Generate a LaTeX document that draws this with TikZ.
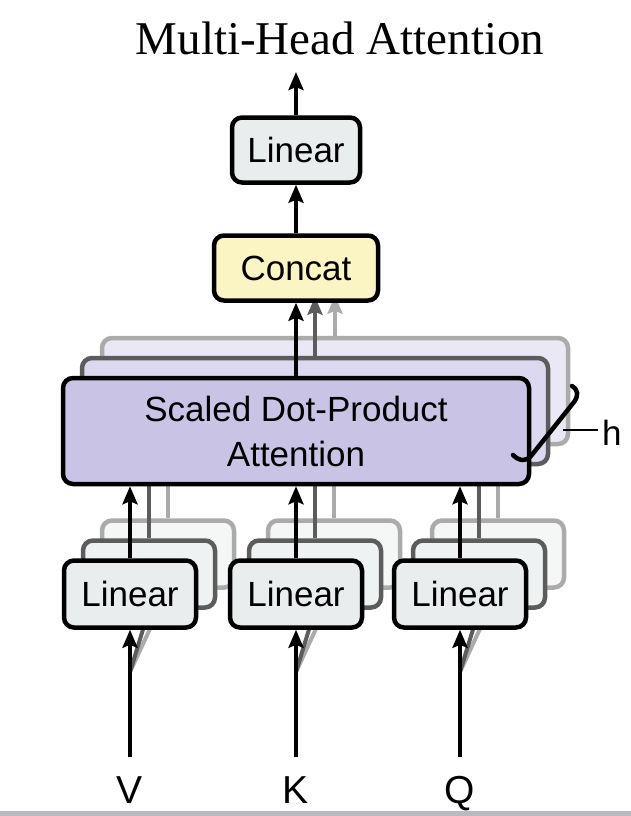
\documentclass[tikz,border=0pt]{standalone}
\usepackage{fontspec}
\setmainfont{Liberation Sans}
\newfontfamily\titlefont{Liberation Serif}
\usetikzlibrary{arrows.meta,backgrounds}

\definecolor{linfill}{HTML}{E9EDED}
\definecolor{linfillB}{HTML}{EFF2F2}
\definecolor{linfillC}{HTML}{F5F7F7}
\definecolor{attfill}{HTML}{C9C4E6}
\definecolor{attfillB}{HTML}{DCD8EF}
\definecolor{attfillC}{HTML}{EAE8F4}
\definecolor{catfill}{HTML}{FBF5C3}
\definecolor{edgeB}{HTML}{5C5C5C}
\definecolor{edgeC}{HTML}{ABABAB}
\definecolor{stripgray}{HTML}{B8BCC0}

\begin{document}
\begin{tikzpicture}[x=1pt,y=-1pt,
  boxtext/.style={font=\fontsize{35}{45}\selectfont},
  box/.style={draw, line width=4.5pt, rounded corners=10pt, inner sep=0pt, boxtext},
  linbox/.style={box, fill=linfill, minimum width=132pt, minimum height=67pt},
  linboxB/.style={linbox, draw=edgeB, fill=linfillB},
  linboxC/.style={linbox, draw=edgeC, fill=linfillC},
  attbox/.style={box, fill=attfill, minimum width=466pt, minimum height=106pt, align=center},
  attboxB/.style={attbox, draw=edgeB, fill=attfillB},
  attboxC/.style={attbox, draw=edgeC, fill=attfillC},
  arr/.style={line width=4.5pt, -{Stealth[length=18pt,width=15pt,inset=3pt]}},
  arrB/.style={arr, draw=edgeB},
  arrC/.style={arr, draw=edgeC},
  lineB/.style={line width=4.5pt, draw=edgeB},
  lineC/.style={line width=4.5pt, draw=edgeC},
]
\useasboundingbox (0,0) rectangle (631,816);
\fill[stripgray] (0,811) rectangle (631,816);

% title
\node[font=\titlefont\fontsize{47}{56}\selectfont, anchor=base, inner sep=0pt] (title) at (340,55) {Multi-Head Attention};

% three stacks of linear projections, each head feeding upwards
\foreach \n/\x in {v/130,k/296,q/460}{
  \node[linboxC] (\n lin3) at (\x+38,554) {};
  \draw[lineC] (\n lin3.north) -- ++(0,-80);
  \node[linboxB] (\n lin2) at (\x+19,574) {};
  \draw[lineB] (\n lin2.north) -- ++(0,-80);
  \node[linbox]  (\n lin)  at (\x,594) {Linear};
  \coordinate (\n in) at (\x,757);
  \coordinate (\n split) at (\x,672);
}

% inputs fanning out to the hidden heads
\begin{pgfonlayer}{background}
  \foreach \n in {v,k,q}{
    \draw[line width=4pt, edgeC] (\n split) -- (\n lin3.south);
    \draw[line width=4pt, edgeB] (\n split) -- (\n lin2.south);
  }
\end{pgfonlayer}

% attention heads (stacked)
\node[attboxC] (att3) at (335,391) {};
\draw[arrC] (att3.north) -- ++(0,-40);
\node[attboxB] (att2) at (315,411) {};
\draw[arrB] (att2.north) -- ++(0,-59);
\node[attbox] (att) at (296,431) {Scaled Dot-Product\\Attention};

% concat and output linear
\node[box, fill=catfill, minimum width=164pt, minimum height=65pt] (cat) at (296,268) {Concat};
\node[linbox, minimum width=128pt, minimum height=65pt] (out) at (296,150) {Linear};
\coordinate (top) at (296,72);

% arrows
\foreach \n in {v,k,q}{
  \draw[arr] (\n in) -- (\n lin.south);
  \draw[arr] (\n lin.north) -- (\n lin.north |- att.south);
}
\draw[arr] (att.north) -- (cat.south);
\draw[arr] (cat.north) -- (out.south);
\draw[arr] (out.north) -- (top);

% head-count bracket
\draw[line width=4.5pt, line cap=round]
  (513,455) .. controls (520,462) and (527,461) .. (531,456)
  -- (574,402) .. controls (579,395) and (578,390) .. (572,386);
\node[boxtext, anchor=base west, inner sep=0pt] (hlab) at (602,445) {h};
\draw[line width=2.5pt] (hlab.west |- 0,430) ++(-4,0) -- (563,430);

% input labels
\node[font=\fontsize{39}{45}\selectfont, anchor=base, inner sep=0pt] (vlab) at (130,803) {V};
\node[font=\fontsize{39}{45}\selectfont, anchor=base, inner sep=0pt] (klab) at (296,803) {K};
\node[font=\fontsize{39}{45}\selectfont, anchor=base, inner sep=0pt] (qlab) at (460,803) {Q};
\end{tikzpicture}
\end{document}
